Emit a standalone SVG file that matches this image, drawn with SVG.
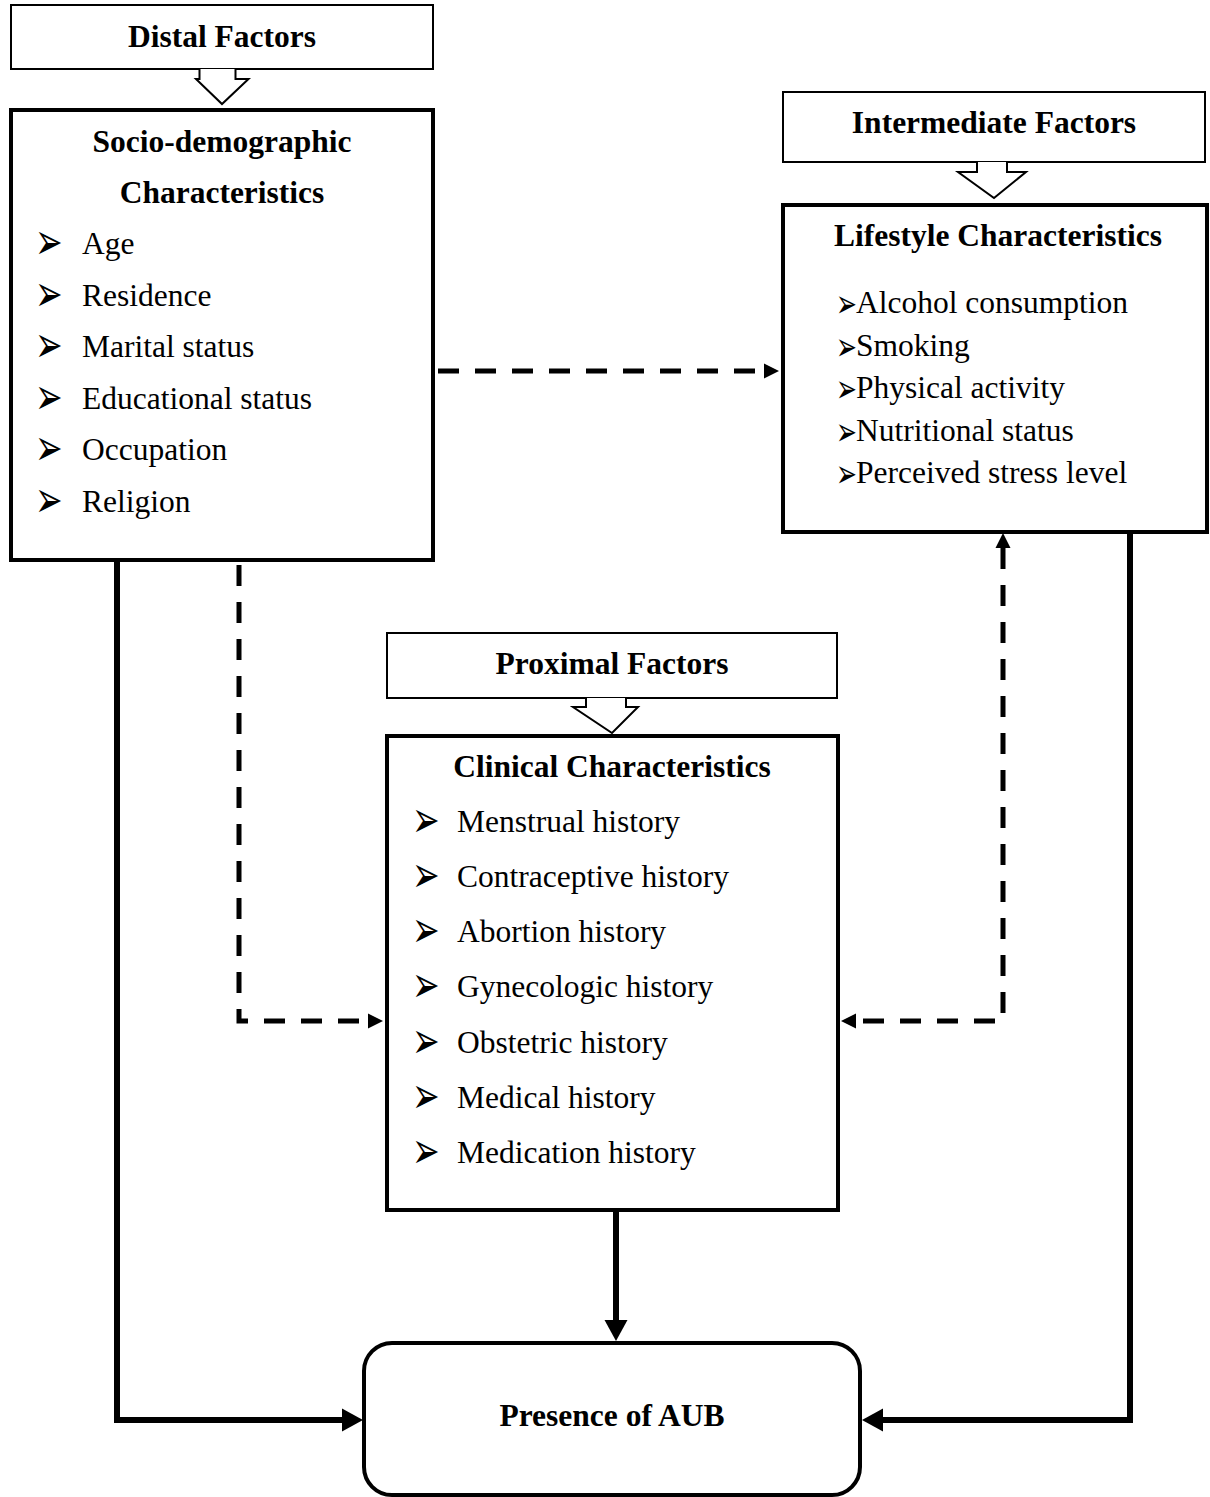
<svg xmlns="http://www.w3.org/2000/svg" width="1210" height="1497" viewBox="0 0 1210 1497">
<style>
.lbl{fill:#fff;stroke:#000;stroke-width:2}
.box{fill:#fff;stroke:#000;stroke-width:4}
.blk{fill:#fff;stroke:#000;stroke-width:2;stroke-linejoin:miter}
.h{font-family:"Liberation Serif","Times New Roman",serif;font-weight:bold;font-size:31.5px;text-anchor:middle;fill:#000}
.t{font-family:"Liberation Serif","Times New Roman",serif;font-size:31.5px;fill:#000}
.b{font-family:"DejaVu Sans",sans-serif;fill:#000}
.dash{fill:none;stroke:#000;stroke-width:5;stroke-dasharray:21 16;stroke-linejoin:miter}
.solid{fill:none;stroke:#000;stroke-width:6;stroke-linejoin:miter}
</style>
<defs>
<marker id="dArrow" markerUnits="userSpaceOnUse" viewBox="0 -8 16 16" markerWidth="16" markerHeight="16" refX="0" refY="0" orient="auto-start-reverse">
<path d="M0,-7.5 L15,0 L0,7.5 Z" fill="#000"/>
</marker>
<marker id="sArrow" markerUnits="userSpaceOnUse" viewBox="0 -12 22 24" markerWidth="22" markerHeight="24" refX="0" refY="0" orient="auto">
<path d="M0,-11.5 L21,0 L0,11.5 Z" fill="#000"/>
</marker>
<text id="bul" class="b" font-size="33" transform="scale(1,1.55)">➢</text>
<text id="bulS" class="b" font-size="25" transform="scale(1,1.55)">➢</text>
</defs>
<rect width="1210" height="1497" fill="#fff"/>

<g id="connectors">
<path class="dash" d="M438,371 H764" marker-end="url(#dArrow)"/>
<path class="dash" d="M239,565 V1021 H368" marker-end="url(#dArrow)"/>
<path class="dash" d="M1003,548 V1021 H856" marker-start="url(#dArrow)" marker-end="url(#dArrow)"/>
<path class="solid" d="M117,562 V1420 H342" marker-end="url(#sArrow)"/>
<path class="solid" d="M1130,534 V1420 H883" marker-end="url(#sArrow)"/>
<path class="solid" d="M616,1212 V1320" marker-end="url(#sArrow)"/>
</g>

<g id="distal-factors">
<rect class="lbl" x="11" y="5" width="422" height="64"/>
<text class="h" x="222" y="47">Distal Factors</text>
<path class="blk" d="M199.5,69 V79 H196 L222,104 L248.5,79 H235.5 V69"/>
</g>

<g id="socio-demographic">
<rect class="box" x="11" y="110" width="422" height="450"/>
<text class="h" x="222" y="152">Socio-demographic</text>
<text class="h" x="222" y="203">Characteristics</text>
<use href="#bul" x="35" y="259"/><text class="t" x="82" y="254">Age</text>
<use href="#bul" x="35" y="310.5"/><text class="t" x="82" y="305.5">Residence</text>
<use href="#bul" x="35" y="362"/><text class="t" x="82" y="357">Marital status</text>
<use href="#bul" x="35" y="413.5"/><text class="t" x="82" y="408.5">Educational status</text>
<use href="#bul" x="35" y="465"/><text class="t" x="82" y="460">Occupation</text>
<use href="#bul" x="35" y="516.5"/><text class="t" x="82" y="511.5">Religion</text>
</g>

<g id="intermediate-factors">
<rect class="lbl" x="783" y="92" width="422" height="70"/>
<text class="h" x="994" y="133">Intermediate Factors</text>
<path class="blk" d="M977,162 V172 H958 L994,198 L1026,172 H1007 V162"/>
</g>

<g id="lifestyle">
<rect class="box" x="783" y="205" width="424" height="327"/>
<text class="h" x="998" y="246">Lifestyle Characteristics</text>
<use href="#bulS" x="836" y="317"/><text class="t" x="856" y="313">Alcohol consumption</text>
<use href="#bulS" x="836" y="359.5"/><text class="t" x="856" y="355.5">Smoking</text>
<use href="#bulS" x="836" y="402"/><text class="t" x="856" y="398">Physical activity</text>
<use href="#bulS" x="836" y="444.5"/><text class="t" x="856" y="440.5">Nutritional status</text>
<use href="#bulS" x="836" y="487"/><text class="t" x="856" y="483">Perceived stress level</text>
</g>

<g id="proximal-factors">
<rect class="lbl" x="387" y="633" width="450" height="65"/>
<text class="h" x="612" y="674">Proximal Factors</text>
<path class="blk" d="M586,698 V707 H573 L612,733 L638,707 H626 V698"/>
</g>

<g id="clinical">
<rect class="box" x="387" y="736" width="451" height="474"/>
<text class="h" x="612" y="777">Clinical Characteristics</text>
<use href="#bul" x="412" y="837"/><text class="t" x="457" y="832">Menstrual history</text>
<use href="#bul" x="412" y="892"/><text class="t" x="457" y="887">Contraceptive history</text>
<use href="#bul" x="412" y="947"/><text class="t" x="457" y="942">Abortion history</text>
<use href="#bul" x="412" y="1002"/><text class="t" x="457" y="997">Gynecologic history</text>
<use href="#bul" x="412" y="1058"/><text class="t" x="457" y="1053">Obstetric history</text>
<use href="#bul" x="412" y="1113"/><text class="t" x="457" y="1108">Medical history</text>
<use href="#bul" x="412" y="1168"/><text class="t" x="457" y="1163">Medication history</text>
</g>

<g id="presence-of-aub">
<rect class="box" x="364" y="1343" width="496" height="152" rx="28" ry="28"/>
<text class="h" x="612" y="1426">Presence of AUB</text>
</g>
</svg>
